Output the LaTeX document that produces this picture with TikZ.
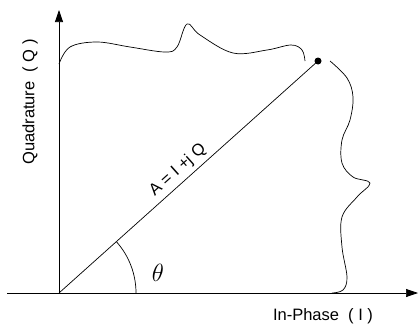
\documentclass[tikz,border=0pt]{standalone}
\usepackage{fontspec}
\setsansfont{Liberation Sans}
\usepackage{tikz}
\usetikzlibrary{arrows.meta, positioning, calc}

\begin{document}
\begin{tikzpicture}[
    x=1pt, y=1pt,
    font=\sffamily,
    axis/.style={line width=0.7pt, -{Triangle[length=12pt, width=8pt]}},
    brace/.style={line width=0.7pt},
    dot/.style={circle, fill=black, inner sep=0pt, minimum size=7pt},
    lbl/.style={font=\sffamily\fontsize{16.5}{16.5}\selectfont, inner sep=1pt},
]
\useasboundingbox (0,0) rectangle (418,325);

\coordinate (O) at (59,32);
\coordinate (xstart) at (7,32);
\coordinate (xend) at (418,32);
\coordinate (ytop) at (59,315);
\node[dot] (P) at (318,264) {};

% axes
\draw[axis] (xstart) -- (xend);
\draw[axis] (O) -- (ytop);
\node[lbl, rotate=90] (qlab) at (30,223) {Quadrature\ \ (\ Q\ )};
\node[lbl] (ilab) at (323,9) {In-Phase\ \ (\ I\ )};

% phasor
\draw[line width=0.7pt] (O) -- node[lbl, sloped, above=3pt, pos=0.49] (alab) {A = I +j Q} (P.center);
\draw[line width=0.7pt] ($(O)+(77,0)$) arc[start angle=0, end angle=41.85, radius=77];
\node[font=\fontsize{26}{26}\selectfont] (theta) at (158,52) {$\theta$};

% braces
\draw[brace] plot[smooth, tension=0.6] coordinates {(59,261) (70,278) (97,283) (130,278) (165,273) (177,278) (187,301) (200,290) (233,272) (267,275) (291,280) (302,275) (305,264)};
\draw[brace] plot[smooth, tension=0.6] coordinates {(330,264) (347,247) (353,228) (350,205) (342,185) (342,162) (353,148) (370,142) (357,128) (342,108) (342,78) (347,48) (343,35) (332,32)};
\end{tikzpicture}
\end{document}
